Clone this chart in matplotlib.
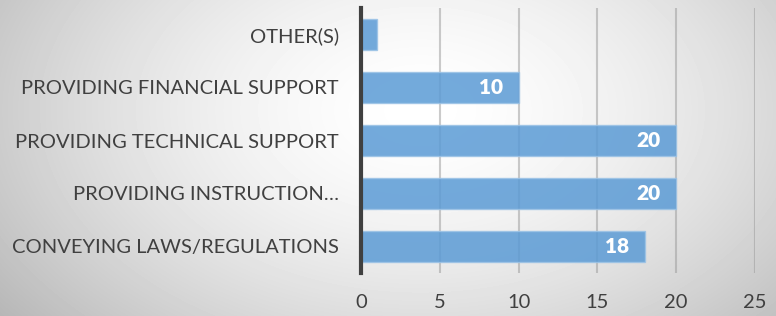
import numpy as np
import matplotlib.pyplot as plt

plt.rcParams['font.family'] = ['Lato', 'DejaVu Sans']

# categories from bottom to top
categories = ['CONVEYING LAWS/REGULATIONS', 'PROVIDING INSTRUCTION…',
              'PROVIDING TECHNICAL SUPPORT', 'PROVIDING FINANCIAL SUPPORT',
              'OTHER(S)']
values = [18, 20, 20, 10, 1]
x_ticks = [0, 5, 10, 15, 20, 25]

fig = plt.figure(figsize=(7.76, 3.16), dpi=100)

# radial grey background
bg = fig.add_axes([0, 0, 1, 1], zorder=-10)
W, H = 776, 316
yy, xx = np.mgrid[0:H, 0:W]
r = np.sqrt(((xx - 420) / 500.0) ** 2 + ((yy - 110) / 320.0) ** 2)
shade = 1.0 - 0.26 * np.clip(r, 0, 1.3) ** 1.6
bg.imshow(shade, cmap='gray', vmin=0, vmax=1, aspect='auto', extent=[0, 1, 0, 1])
bg.axis('off')

ax = fig.add_axes([361 / W, 1 - 273 / H, (755 - 361) / W, (273 - 8) / H])
ax.patch.set_alpha(0)

y = np.arange(len(categories))
bars = ax.barh(y, values, height=0.57, color='#5b9bd5', alpha=0.85,
               edgecolor='#9cc3e6', linewidth=1, zorder=3)

for b, v in zip(bars, values):
    if v > 2:
        ax.text(v - 1.0, b.get_y() + b.get_height() / 2, str(v), ha='right',
                va='center', color='white', fontsize=15, fontweight='heavy',
                zorder=4)

ax.set_xlim(0, 25)
ax.set_ylim(-0.5, len(categories) - 0.5)
ax.set_xticks(x_ticks)
ax.set_yticks(y)
ax.set_yticklabels(categories)
ax.tick_params(axis='both', length=0, labelsize=14.5, colors='#404040')
ax.tick_params(axis='x', pad=15)
ax.tick_params(axis='y', pad=16)

ax.grid(axis='x', color='#999999', alpha=0.5, linewidth=1.5, zorder=0)
ax.set_axisbelow(True)
for s in ['top', 'right', 'bottom']:
    ax.spines[s].set_visible(False)
ax.spines['left'].set_color('#404040')
ax.spines['left'].set_linewidth(3)
ax.spines['left'].set_zorder(5)

fig.savefig('out.png', dpi=100)
